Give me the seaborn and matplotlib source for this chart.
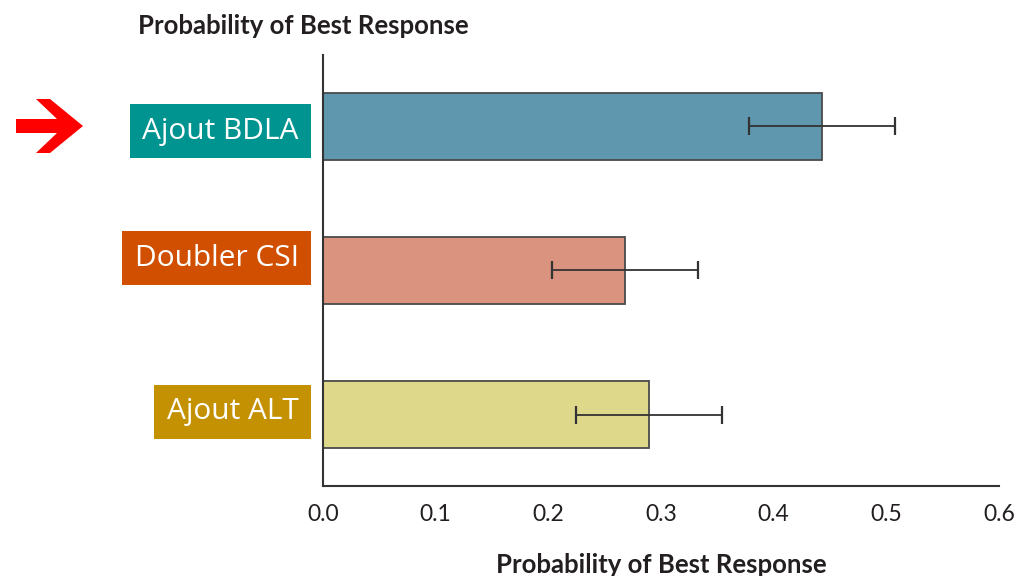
import numpy as np
import pandas as pd
import matplotlib
matplotlib.use("Agg")
import matplotlib.pyplot as plt
from matplotlib.patches import Polygon
import seaborn as sns

# Data
categories = ["Ajout BDLA", "Doubler CSI", "Ajout ALT"]
prob_best = [0.443, 0.268, 0.289]
ci_low = [0.378, 0.203, 0.225]
ci_high = [0.508, 0.333, 0.354]
x_ticks = [0.0, 0.1, 0.2, 0.3, 0.4, 0.5, 0.6]

# Styles
BAR_COLORS = ["#5F98AE", "#D9937F", "#DDD88A"]
BOX_COLORS = ["#009490", "#D14F00", "#C49102"]
LABEL_DY = [0.035, -0.085, -0.02]
TEXT_COLOR = "#231F20"
LINE_COLOR = "#333333"

sns.set_theme(style="white")
plt.rcParams["font.family"] = ["Lato", "DejaVu Sans"]

df = pd.DataFrame({"Treatment": categories, "Probability": prob_best})

fig = plt.figure(figsize=(10.17, 5.76), dpi=100)
ax = fig.add_axes([0.3176, 0.1563, 0.6647, 0.7482])

sns.barplot(data=df, x="Probability", y="Treatment", hue="Treatment",
            palette=BAR_COLORS, saturation=1, orient="h", width=0.46, errorbar=None,
            edgecolor="#4A4A4A", linewidth=1.3, legend=False, ax=ax)

xerr = np.array([np.array(prob_best) - np.array(ci_low),
                 np.array(ci_high) - np.array(prob_best)])
ax.errorbar(prob_best, np.arange(len(categories)), xerr=xerr, fmt="none",
            ecolor=LINE_COLOR, elinewidth=1.3, capsize=6.5, capthick=1.6)

ax.set_xlim(0, 0.6)
ax.set_ylim(2.495, -0.495)
ax.set_xticks(x_ticks)
ax.set_xticklabels([f"{t:.1f}" for t in x_ticks], fontsize=16.5, color=TEXT_COLOR)
ax.set_yticks([])
ax.set_ylabel("")
ax.set_xlabel("Probability of Best Response", fontsize=18.5, fontweight="bold",
              color=TEXT_COLOR, labelpad=20)
ax.tick_params(axis="x", direction="out", length=7, width=1.3, color=LINE_COLOR, pad=6)

for side in ["top", "right"]:
    ax.spines[side].set_visible(False)
for side in ["left", "bottom"]:
    ax.spines[side].set_color(LINE_COLOR)
    ax.spines[side].set_linewidth(1.5)

# coloured treatment labels
for i, (lab, col) in enumerate(zip(categories, BOX_COLORS)):
    ax.text(-0.036, i + LABEL_DY[i], lab, transform=ax.get_yaxis_transform(),
            ha="right", va="center", fontsize=21.5, color="white",
            family=["Open Sans", "DejaVu Sans"],
            bbox=dict(boxstyle="square,pad=0.42", fc=col, ec="none"))

# title
fig.text(138 / 1017, 1 - 26 / 576, "Probability of Best Response", ha="left", va="center",
         fontsize=18.5, fontweight="bold", color=TEXT_COLOR)

# red arrow pointing at the first label
arrow_px = [(16, 119), (57, 119), (36, 99), (50, 99), (83, 126), (50, 153),
            (36, 153), (57, 133), (16, 133)]
arrow = Polygon([(x / 1017, 1 - y / 576) for x, y in arrow_px], closed=True,
                transform=fig.transFigure, fc="#FF0000", ec="none")
fig.patches.append(arrow)

fig.savefig("out.png", dpi=100)
